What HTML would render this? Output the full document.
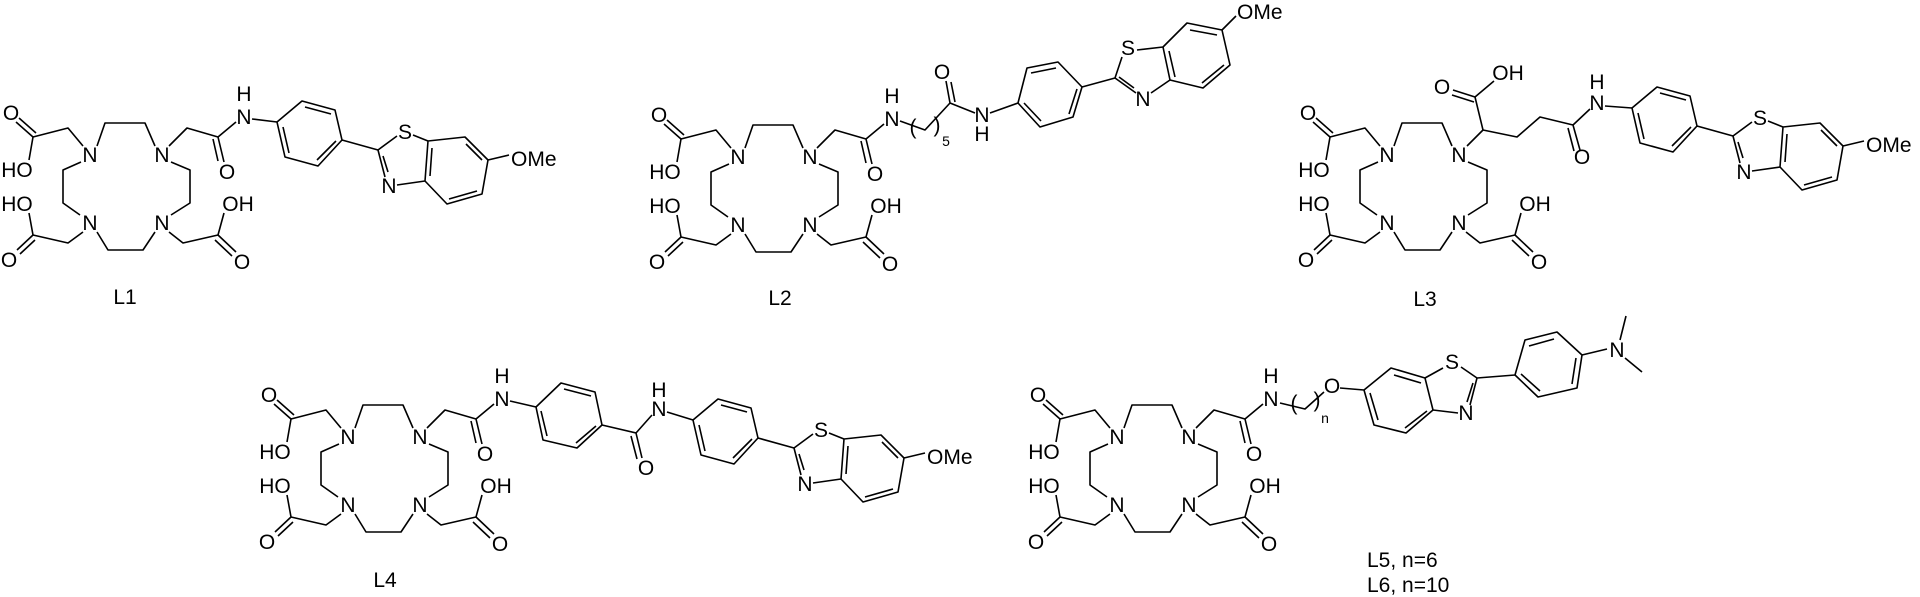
<!DOCTYPE html>
<html><head><meta charset="utf-8"><style>
html,body{margin:0;padding:0;background:#fff;width:1920px;height:597px;overflow:hidden}
svg{display:block}
text{font-family:"Liberation Sans",Arial,sans-serif;font-size:21px;fill:#000}
.a{text-anchor:middle}
path{fill:none;stroke:#000;stroke-width:1.6;stroke-linejoin:round}
</style></head><body>
<svg width="1920" height="597" viewBox="0 0 1920 597" xmlns="http://www.w3.org/2000/svg">
<rect width="1920" height="597" fill="#fff"/>

<!-- ===== L1 ===== -->
<g>
<path d="M97,146 L105,123 L145,123 L155,146 M81,162 L63,170 L63,203 L80,215 M97,232 L108,250 L143,250 L155,232 M171,162 L190,170 L190,203 L171,215
M83,146 L68,128 L33,137 L16,122 M36,133 L19,118 M33,137 L29,160
M83,232 L68,243 L33,235 L17,250 M35,240 L20,254 M33,235 L29,213
M169,232 L183,243 L218,235 L236,252 M215,240 L232,256 M218,235 L224,213"/>
<text class="a" x="90" y="162">N</text><text class="a" x="162" y="162">N</text>
<text class="a" x="90" y="230">N</text><text class="a" x="162" y="230">N</text>
<text class="a" x="11" y="120">O</text><text class="a" x="17" y="177">HO</text>
<text class="a" x="17" y="211">HO</text><text class="a" x="9" y="267">O</text>
<text class="a" x="238" y="211">OH</text><text class="a" x="242" y="269">O</text>
<path d="M169,146 L187,128 L218,137 L224,162 M213,139 L218,161 M218,137 L236,122"/>
<text class="a" x="227" y="179">O</text><text class="a" x="244" y="124">N</text><text class="a" x="244" y="101">H</text>
<path d="M252,119 L277,122"/>
<g>
<path d="M277,122 L302,101 L335,110 L342,140 L318,166 L285,157 Z M305,107 L331,114 M336,141 L317,160 M289,153 L283,127
M342,140 L378,150 M378,150 L397,136 M413,135 L428,141 M428,141 L425,181 M425,181 L397,185 M385,177 L378,150 M388,172 L383,156
M428,141 L465,137 L488,160 L482,194 L447,204 L425,181 M432,148 L430,176 M466,144 L482,160 M477,191 L449,199 M488,160 L509,155"/>
<text class="a" x="405" y="139">S</text><text class="a" x="389" y="193">N</text><text x="511" y="166">OMe</text>
</g>
<text class="a" x="125" y="304">L1</text>
</g>

<!-- ===== L2 ===== -->
<g transform="translate(648,2)">
<path d="M97,146 L105,123 L145,123 L155,146 M81,162 L63,170 L63,203 L80,215 M97,232 L108,250 L143,250 L155,232 M171,162 L190,170 L190,203 L171,215
M83,146 L68,128 L33,137 L16,122 M36,133 L19,118 M33,137 L29,160
M83,232 L68,243 L33,235 L17,250 M35,240 L20,254 M33,235 L29,213
M169,232 L183,243 L218,235 L236,252 M215,240 L232,256 M218,235 L224,213"/>
<text class="a" x="90" y="162">N</text><text class="a" x="162" y="162">N</text>
<text class="a" x="90" y="230">N</text><text class="a" x="162" y="230">N</text>
<text class="a" x="11" y="120">O</text><text class="a" x="17" y="177">HO</text>
<text class="a" x="17" y="211">HO</text><text class="a" x="9" y="267">O</text>
<text class="a" x="238" y="211">OH</text><text class="a" x="242" y="269">O</text>
<path d="M169,146 L187,128 L218,137 L224,162 M213,139 L218,161 M218,137 L236,122"/>
<text class="a" x="227" y="179">O</text><text class="a" x="244" y="124">N</text><text class="a" x="244" y="101">H</text>
</g>
<path d="M900,121 L925,130 L950,103 M950,103 L946,81 M955,102 L951,82 M950,103 L975,113 M990,113 L1018,103
M1018,103 L1027,68 L1058,62 L1082,87 L1073,117 L1040,127 Z M1031,73 L1056,68 M1077,89 L1069,114 M1041,121 L1024,103
M1082,87 L1115,78 M1115,78 L1122,57 M1137,50 L1163,47 M1163,47 L1170,80 M1170,80 L1151,93 M1136,93 L1115,78 M1134,88 L1119,77
M1163,47 L1187,23 L1222,30 L1230,65 L1203,88 L1170,80 M1169,51 L1175,77 M1190,30 L1217,35 M1224,65 L1202,83 M1222,30 L1236,16"/>
<text class="a" x="913" y="134">(</text><text class="a" x="937" y="132">)</text><text class="a" x="946" y="146" style="font-size:14px">5</text>
<text class="a" x="942" y="79">O</text><text class="a" x="982" y="122">N</text><text class="a" x="982" y="141">H</text>
<text class="a" x="1128" y="55">S</text><text class="a" x="1143" y="106">N</text><text x="1237" y="19">OMe</text>
<text class="a" x="780" y="305">L2</text>

<!-- ===== L3 ===== -->
<g transform="translate(1297,0)">
<path d="M97,146 L105,123 L145,123 L155,146 M81,162 L63,170 L63,203 L80,215 M97,232 L108,250 L143,250 L155,232 M171,162 L190,170 L190,203 L171,215
M83,146 L68,128 L33,137 L16,122 M36,133 L19,118 M33,137 L29,160
M83,232 L68,243 L33,235 L17,250 M35,240 L20,254 M33,235 L29,213
M169,232 L183,243 L218,235 L236,252 M215,240 L232,256 M218,235 L224,213"/>
<text class="a" x="90" y="162">N</text><text class="a" x="162" y="162">N</text>
<text class="a" x="90" y="230">N</text><text class="a" x="162" y="230">N</text>
<text class="a" x="11" y="120">O</text><text class="a" x="17" y="177">HO</text>
<text class="a" x="17" y="211">HO</text><text class="a" x="9" y="267">O</text>
<text class="a" x="238" y="211">OH</text><text class="a" x="242" y="269">O</text>
</g>
<path d="M1467,146 L1483,130 L1475,97 L1453,90 M1474,102 L1452,95 M1475,97 L1494,81
M1483,130 L1517,137 L1540,117 L1573,125 L1580,150 M1568,128 L1574,151 M1573,125 L1590,109 M1605,106 L1632,108"/>
<text class="a" x="1442" y="94">O</text><text class="a" x="1508" y="80">OH</text>
<text class="a" x="1582" y="164">O</text><text class="a" x="1597" y="110">N</text><text class="a" x="1597" y="89">H</text>
<g transform="translate(1355,-14)">
<path d="M277,122 L302,101 L335,110 L342,140 L318,166 L285,157 Z M305,107 L331,114 M336,141 L317,160 M289,153 L283,127
M342,140 L378,150 M378,150 L397,136 M413,135 L428,141 M428,141 L425,181 M425,181 L397,185 M385,177 L378,150 M388,172 L383,156
M428,141 L465,137 L488,160 L482,194 L447,204 L425,181 M432,148 L430,176 M466,144 L482,160 M477,191 L449,199 M488,160 L509,155"/>
<text class="a" x="405" y="139">S</text><text class="a" x="389" y="193">N</text><text x="511" y="166">OMe</text>
</g>
<text class="a" x="1425" y="306">L3</text>

<!-- ===== L4 ===== -->
<g transform="translate(258,282)">
<path d="M97,146 L105,123 L145,123 L155,146 M81,162 L63,170 L63,203 L80,215 M97,232 L108,250 L143,250 L155,232 M171,162 L190,170 L190,203 L171,215
M83,146 L68,128 L33,137 L16,122 M36,133 L19,118 M33,137 L29,160
M83,232 L68,243 L33,235 L17,250 M35,240 L20,254 M33,235 L29,213
M169,232 L183,243 L218,235 L236,252 M215,240 L232,256 M218,235 L224,213"/>
<text class="a" x="90" y="162">N</text><text class="a" x="162" y="162">N</text>
<text class="a" x="90" y="230">N</text><text class="a" x="162" y="230">N</text>
<text class="a" x="11" y="120">O</text><text class="a" x="17" y="177">HO</text>
<text class="a" x="17" y="211">HO</text><text class="a" x="9" y="267">O</text>
<text class="a" x="238" y="211">OH</text><text class="a" x="242" y="269">O</text>
<path d="M169,146 L187,128 L218,137 L224,162 M213,139 L218,161 M218,137 L236,122"/>
<text class="a" x="227" y="179">O</text><text class="a" x="244" y="124">N</text><text class="a" x="244" y="101">H</text>
</g>
<path d="M510,401 L536,407 M536,407 L561,383 L595,392 L602,425 L577,448 L543,440 Z M564,389 L591,396 M596,426 L576,443 M547,436 L541,411
M602,425 L636,433 L642,458 M631,436 L637,459 M636,433 L652,415 M667,412 L693,420"/>
<text class="a" x="646" y="475">O</text><text class="a" x="659" y="416">N</text><text class="a" x="659" y="397">H</text>
<g transform="translate(416,298)">
<path d="M277,122 L302,101 L335,110 L342,140 L318,166 L285,157 Z M305,107 L331,114 M336,141 L317,160 M289,153 L283,127
M342,140 L378,150 M378,150 L397,136 M413,135 L428,141 M428,141 L425,181 M425,181 L397,185 M385,177 L378,150 M388,172 L383,156
M428,141 L465,137 L488,160 L482,194 L447,204 L425,181 M432,148 L430,176 M466,144 L482,160 M477,191 L449,199 M488,160 L509,155"/>
<text class="a" x="405" y="139">S</text><text class="a" x="389" y="193">N</text><text x="511" y="166">OMe</text>
</g>
<text class="a" x="385" y="587">L4</text>

<!-- ===== L5/L6 ===== -->
<g transform="translate(1027,282)">
<path d="M97,146 L105,123 L145,123 L155,146 M81,162 L63,170 L63,203 L80,215 M97,232 L108,250 L143,250 L155,232 M171,162 L190,170 L190,203 L171,215
M83,146 L68,128 L33,137 L16,122 M36,133 L19,118 M33,137 L29,160
M83,232 L68,243 L33,235 L17,250 M35,240 L20,254 M33,235 L29,213
M169,232 L183,243 L218,235 L236,252 M215,240 L232,256 M218,235 L224,213"/>
<text class="a" x="90" y="162">N</text><text class="a" x="162" y="162">N</text>
<text class="a" x="90" y="230">N</text><text class="a" x="162" y="230">N</text>
<text class="a" x="11" y="120">O</text><text class="a" x="17" y="177">HO</text>
<text class="a" x="17" y="211">HO</text><text class="a" x="9" y="267">O</text>
<text class="a" x="238" y="211">OH</text><text class="a" x="242" y="269">O</text>
<path d="M169,146 L187,128 L218,137 L224,162 M213,139 L218,161 M218,137 L236,122"/>
<text class="a" x="227" y="179">O</text><text class="a" x="244" y="124">N</text><text class="a" x="244" y="101">H</text>
</g>
<path d="M1280,403 L1305,409 L1324,392 M1340,388 L1364,390
M1364,390 L1391,368 L1425,378 L1433,410 L1406,433 L1374,425 Z M1394,375 L1421,383 M1427,411 L1405,428 M1378,420 L1370,393
M1425,378 L1443,368 M1461,367 L1477,378 M1477,378 L1470,405 M1473,383 L1467,402 M1458,413 L1433,410
M1477,378 L1515,375 M1515,375 L1525,340 L1557,332 L1582,355 L1577,388 L1538,397 Z M1529,346 L1554,339 M1576,358 L1572,384 M1540,391 L1521,374
M1582,355 L1607,349 M1620,340 L1626,316 M1625,358 L1642,372"/>
<text class="a" x="1294" y="410">(</text><text class="a" x="1317" y="407">)</text><text class="a" x="1325" y="423" style="font-size:14px">n</text>
<text class="a" x="1332" y="393">O</text><text class="a" x="1452" y="369">S</text><text class="a" x="1466" y="420">N</text><text class="a" x="1617" y="357">N</text>
<text x="1367" y="567">L5, n=6</text>
<text x="1367" y="592">L6, n=10</text>
</svg>
</body></html>
